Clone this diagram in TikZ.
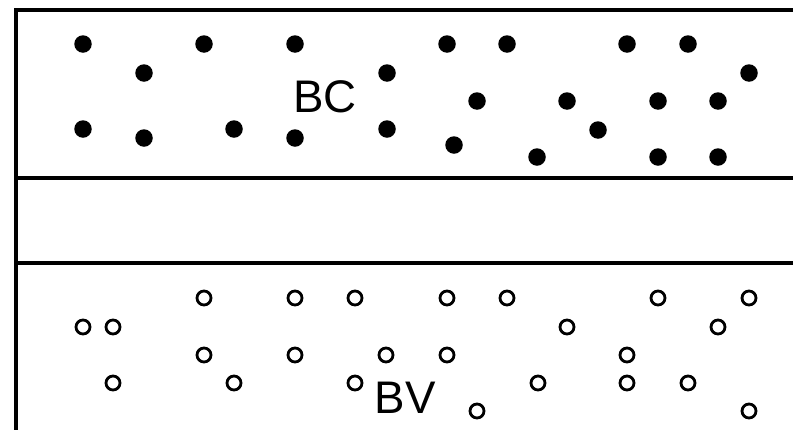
\documentclass[tikz,border=0pt]{standalone}
\usepackage{fontspec}
\setmainfont{Liberation Sans}
\tikzset{
  band/.style={line width=1.9pt},
  electron/.style={fill=black},
  hole/.style={draw=black, line width=1.6pt},
  label/.style={inner sep=0pt, anchor=base, font=\fontsize{26}{30}\selectfont}
}
\begin{document}
\begin{tikzpicture}[x=0.02cm, y=-0.02cm]
  \useasboundingbox (0,0) rectangle (793,430);
  % Band edges
  \draw[band] (793,10) -- (16,10) -- (16,430);
  \draw[band] (16,178) -- (793,178);
  \draw[band] (16,263) -- (793,263);
  % Electrons in the conduction band
  \foreach \x/\y in {83/44, 204/44, 295/44, 447/44, 507/44, 627/44, 688/44,
                     144/73, 387/73, 749/73,
                     477/101, 567/101, 658/101, 718/101,
                     83/129, 234/129, 387/129, 598/130,
                     144/138, 295/138, 454/145, 537/157, 658/157, 718/157}
    \fill[electron] (\x,\y) circle[radius=0.175cm];
  % Holes in the valence band
  \foreach \x/\y in {204/298, 295/298, 355/298, 447/298, 507/298, 658/298, 749/298,
                     83/327, 113/327, 567/327, 718/327,
                     204/355, 295/355, 386/355, 447/355, 627/355,
                     113/383, 234/383, 355/383, 538/383, 627/383, 688/383,
                     477/411, 749/411}
    \draw[hole] (\x,\y) circle[radius=0.14cm];
  % Labels
  \node (bc) [label] at (325,112) {BC};
  \node (bv) [label] at (405,413) {BV};
\end{tikzpicture}
\end{document}
